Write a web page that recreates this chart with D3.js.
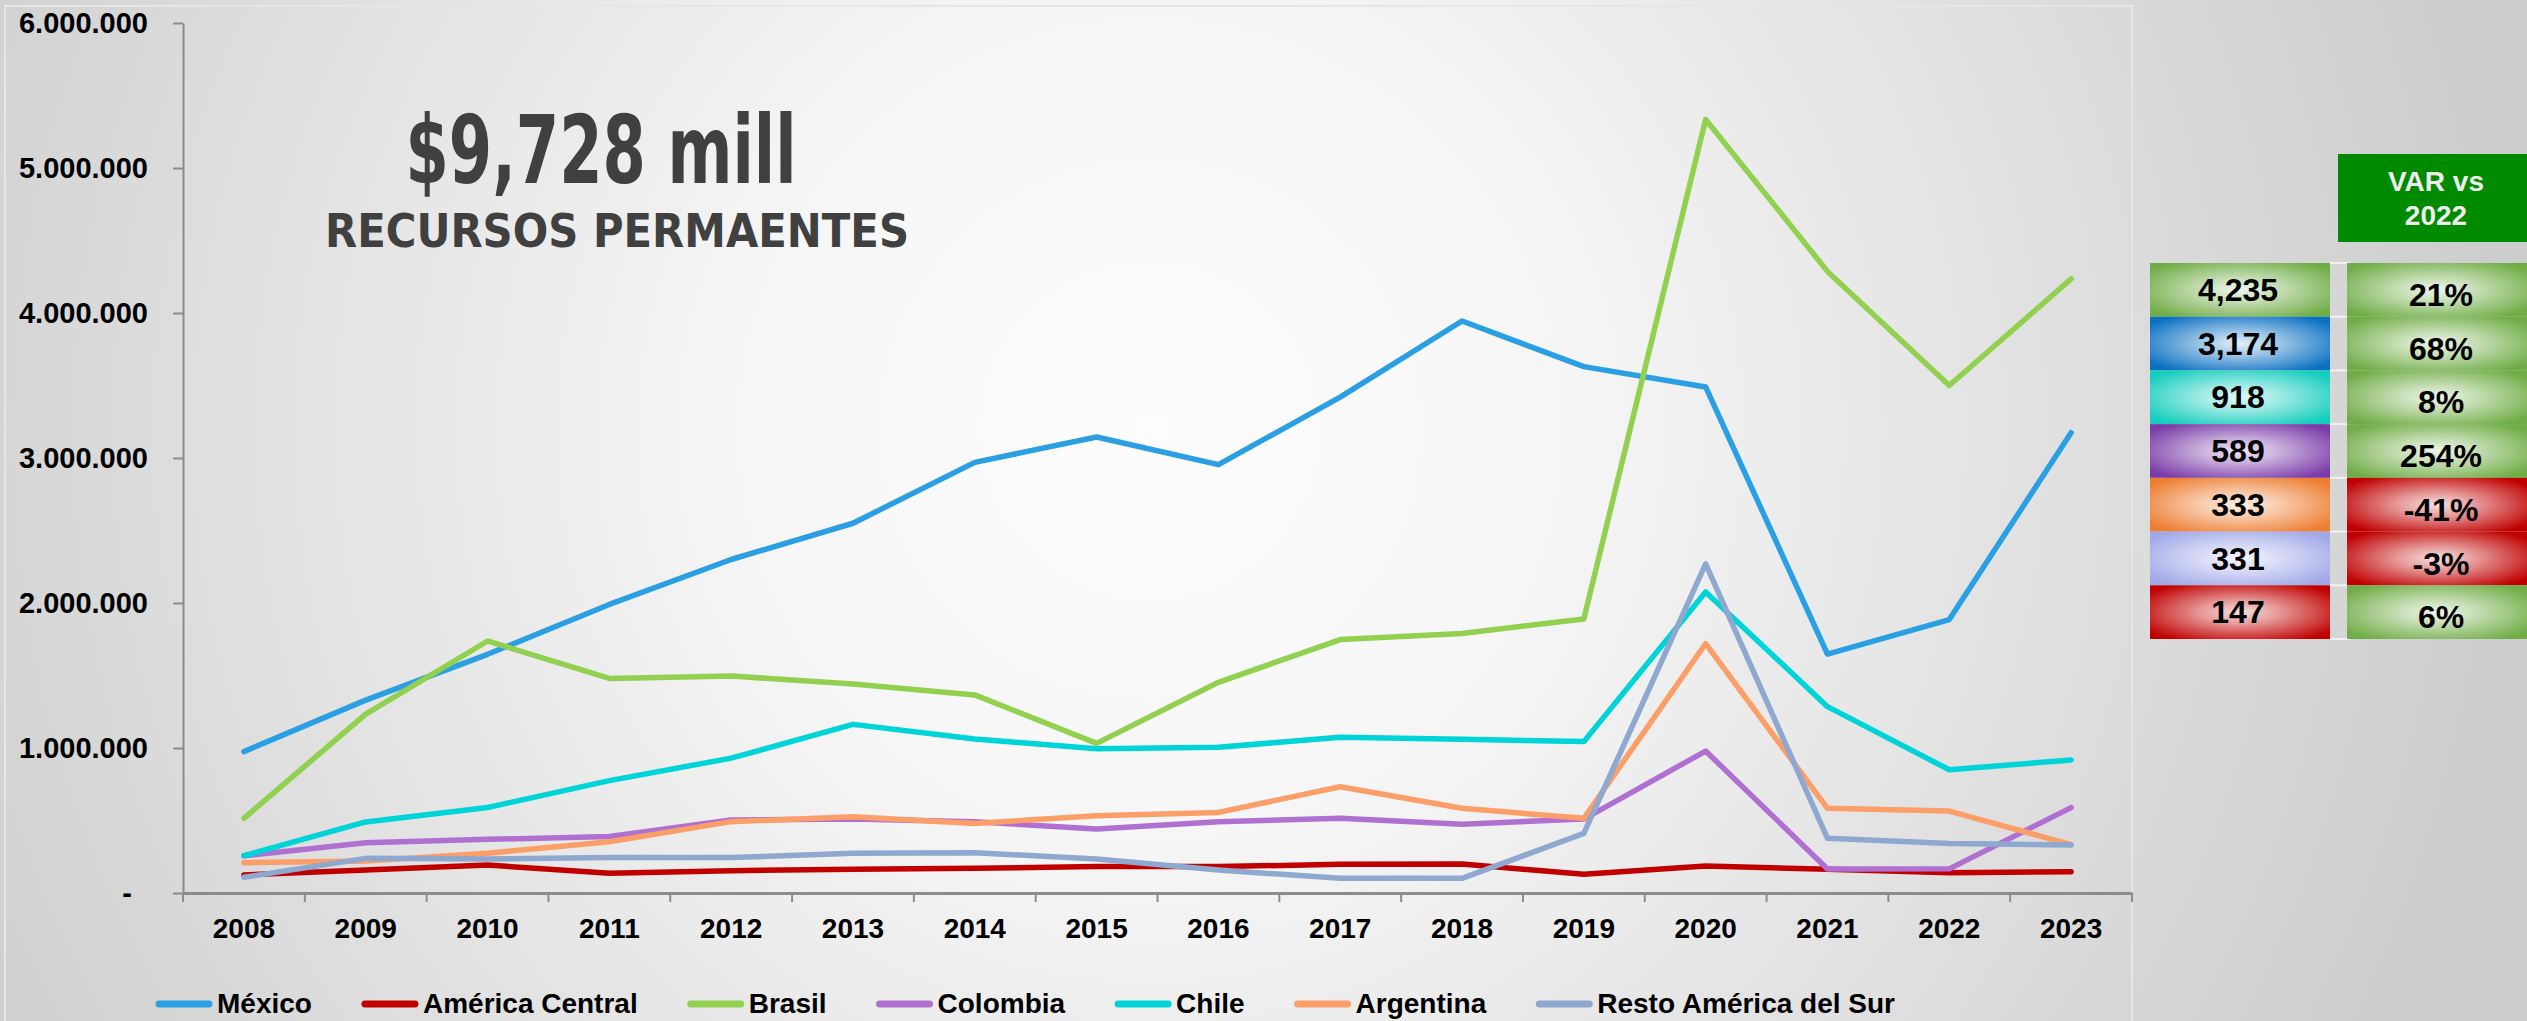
<!DOCTYPE html>
<html>
<head>
<meta charset="utf-8">
<script src="https://cdn.jsdelivr.net/npm/d3@7"></script>
<style>
  body { margin: 0; background: #d8d8d8; }
  svg { display: block; font-family: "Liberation Sans", Arial, sans-serif; }
</style>
</head>
<body>
<svg id="chart" width="2527" height="1021"></svg>
<script>
'use strict';

var years = ['2008', '2009', '2010', '2011', '2012', '2013', '2014', '2015',
             '2016', '2017', '2018', '2019', '2020', '2021', '2022', '2023'];

// series values (units)
var mexico     = [975000, 1330000, 1646000, 1990000, 2300000, 2550000, 2970000, 3145000,
                  2954000, 3420000, 3945000, 3630000, 3490000, 1648000, 1886000, 3174000];
var amCentral  = [124000, 159000, 193000, 136000, 154000, 163000, 170000, 182000,
                  182000, 198000, 200000, 129000, 186000, 163000, 139000, 147000];
var brasil     = [515000, 1234000, 1738000, 1480000, 1497000, 1441000, 1366000, 1032000,
                  1453000, 1748000, 1790000, 1890000, 5335000, 4287000, 3500000, 4235000];
var colombia   = [257000, 347000, 370000, 389000, 503000, 510000, 492000, 441000,
                  492000, 515000, 474000, 510000, 979000, 166000, 166400, 589000];
var chile      = [257000, 490000, 590000, 775000, 930000, 1163000, 1062000, 995000,
                  1005000, 1074000, 1060000, 1044000, 2076000, 1285000, 850000, 918000];
var argentina  = [209000, 220000, 274000, 354000, 492000, 526000, 480000, 533000,
                  556000, 733000, 584000, 515000, 1720000, 584000, 565000, 333000];
var restoSur   = [108000, 239000, 234000, 244000, 244000, 274000, 278000, 234000,
                  159000, 101000, 101000, 411000, 2270000, 377000, 341000, 331000];

var seriesNames  = ['México', 'América Central', 'Brasil', 'Colombia', 'Chile', 'Argentina', 'Resto América del Sur'];
var seriesValues = [mexico, amCentral, brasil, colombia, chile, argentina, restoSur];
var lineColors   = ['#2a9fe4', '#c00000', '#92d050', '#b070d2', '#00d4d8', '#fb9e68', '#8ea8cf'];
var boxColors    = ['#0a70c2', '#c00000', '#70ad47', '#7a3aa8', '#14cdbd', '#ed7d31', '#a0a8e8'];

var yTicks = [0, 1000000, 2000000, 3000000, 4000000, 5000000, 6000000];

var bigTitle = '$9,728 mill';
var subTitle = 'RECURSOS PERMAENTES';
var varHeader = ['VAR vs', '2022'];

var svg = d3.select('#chart');
var defs = svg.append('defs');

// background
var bg = defs.append('radialGradient').attr('id', 'bg')
  .attr('gradientUnits', 'userSpaceOnUse')
  .attr('cx', 1150).attr('cy', 430).attr('r', 1350);
bg.append('stop').attr('offset', 0).attr('stop-color', '#fdfdfd');
bg.append('stop').attr('offset', 0.3).attr('stop-color', '#f6f6f6');
bg.append('stop').attr('offset', 1).attr('stop-color', '#cdcdcd');
svg.append('rect').attr('width', 2527).attr('height', 1021).attr('fill', 'url(#bg)');
svg.append('rect').attr('x', 5).attr('y', 6).attr('width', 2127).attr('height', 1030)
  .attr('fill', 'none').attr('stroke', '#e6e6e6').attr('stroke-width', 2);

// scales
var x = d3.scaleBand().domain(years).range([183, 2132]);
var y = d3.scaleLinear().domain([0, 6000000]).range([893, 23]);
var cx = function(d) { return x(d) + x.bandwidth() / 2; };

var es = d3.formatLocale({ decimal: ',', thousands: '.', grouping: [3], currency: ['$', ''] });
var fmtAxis = es.format(',.0f');

// y axis
var yAxis = svg.append('g')
  .attr('transform', 'translate(183,0)')
  .call(d3.axisLeft(y).tickValues(yTicks).tickSize(10).tickSizeOuter(0).tickPadding(25)
    .tickFormat(function(d) { return d === 0 ? '-' : fmtAxis(d); }));
yAxis.selectAll('path, line').attr('stroke', '#8c8c8c').attr('stroke-width', 2);
yAxis.selectAll('text').attr('font-size', 29).attr('font-weight', 'bold')
  .attr('fill', '#000').attr('font-family', '"Liberation Sans", Arial, sans-serif')
  .attr('dx', function(d) { return d === 0 ? -16 : 0; });

// x axis
var xAxis = svg.append('g')
  .attr('transform', 'translate(0,893)')
  .call(d3.axisBottom(x).tickSize(0).tickSizeOuter(0).tickPadding(25));
xAxis.select('path').attr('stroke', '#8c8c8c').attr('stroke-width', 3);
xAxis.selectAll('text').attr('font-size', 28).attr('font-weight', 'bold')
  .attr('fill', '#000').attr('font-family', '"Liberation Sans", Arial, sans-serif');
var bounds = years.map(function(d) { return x(d); }).concat([x.range()[1]]);
xAxis.selectAll('line.bound').data(bounds).enter().append('line')
  .attr('class', 'bound')
  .attr('x1', function(d) { return d; }).attr('x2', function(d) { return d; })
  .attr('y1', 0).attr('y2', 9)
  .attr('stroke', '#8c8c8c').attr('stroke-width', 2);

// lines
var line = d3.line()
  .x(function(d, i) { return cx(years[i]); })
  .y(function(d) { return y(d); });

svg.append('g').selectAll('path.series').data(seriesValues).enter().append('path')
  .attr('class', 'series')
  .attr('d', line)
  .attr('fill', 'none')
  .attr('stroke', function(d, i) { return lineColors[i]; })
  .attr('stroke-width', 5.5)
  .attr('stroke-linejoin', 'round')
  .attr('stroke-linecap', 'round');

// titles
svg.append('text').attr('x', 601).attr('y', 183)
  .attr('text-anchor', 'middle')
  .attr('font-family', '"Liberation Sans Narrow", "DejaVu Sans Condensed", "Liberation Sans", sans-serif')
  .attr('font-weight', 'bold').attr('font-size', 95).attr('fill', '#404040')
  .attr('textLength', 391).attr('lengthAdjust', 'spacingAndGlyphs')
  .text(bigTitle);
svg.append('text').attr('x', 617).attr('y', 247)
  .attr('text-anchor', 'middle')
  .attr('font-family', '"Liberation Sans Narrow", "DejaVu Sans Condensed", "Liberation Sans", sans-serif')
  .attr('font-weight', 'bold').attr('font-size', 47).attr('fill', '#404040')
  .attr('textLength', 584).attr('lengthAdjust', 'spacingAndGlyphs')
  .text(subTitle);

// legend
var legend = svg.append('g');
var lx = 156;
seriesNames.forEach(function(name, i) {
  legend.append('line')
    .attr('x1', lx + 3).attr('x2', lx + 53).attr('y1', 1004).attr('y2', 1004)
    .attr('stroke', lineColors[i]).attr('stroke-width', 7).attr('stroke-linecap', 'round');
  var t = legend.append('text').attr('x', lx + 61).attr('y', 1013)
    .attr('font-size', 28).attr('font-weight', 'bold').attr('fill', '#000')
    .text(name);
  lx = lx + 61 + t.node().getComputedTextLength() + 50;
});

// summary table, sorted by 2023 value
var last = years.length - 1;
var rows = seriesNames.map(function(name, i) {
  var v = seriesValues[i];
  return { name: name, color: boxColors[i], val: v[last], change: v[last] / v[last - 1] - 1 };
}).sort(function(a, b) { return b.val - a.val; });

var fmtK = d3.format(',.0f');
var fmtPct = function(v) { return d3.format('.0%')(v).replace('\u2212', '-'); };

function grad(id, color) {
  var g = defs.append('radialGradient').attr('id', id)
    .attr('cx', 0.5).attr('cy', 0.5).attr('r', 0.62);
  g.append('stop').attr('offset', 0).attr('stop-color', d3.interpolateRgb(color, '#ffffff')(0.88));
  g.append('stop').attr('offset', 0.35).attr('stop-color', d3.interpolateRgb(color, '#ffffff')(0.6));
  g.append('stop').attr('offset', 1).attr('stop-color', color);
}
grad('gPos', '#70ad47');
grad('gNeg', '#c00000');

var rowY = d3.scaleBand().domain(d3.range(rows.length)).range([263, 639]);

svg.append('rect').attr('x', 2330).attr('y', 263).attr('width', 17).attr('height', 376)
  .attr('fill', '#d6d6d6');
svg.selectAll('line.sep').data(d3.range(rows.length + 1)).enter().append('line')
  .attr('class', 'sep')
  .attr('x1', 2330).attr('x2', 2350)
  .attr('y1', function(i) { return 263 + i * rowY.step(); })
  .attr('y2', function(i) { return 263 + i * rowY.step(); })
  .attr('stroke', '#f2f2f2').attr('stroke-width', 2);

var tbl = svg.append('g').selectAll('g').data(rows).enter().append('g');
tbl.each(function(d, i) { grad('gRow' + i, d.color); });
tbl.append('rect')
  .attr('x', 2150).attr('width', 180)
  .attr('y', function(d, i) { return rowY(i); }).attr('height', rowY.bandwidth())
  .attr('fill', function(d, i) { return 'url(#gRow' + i + ')'; });
tbl.append('text')
  .attr('x', 2238).attr('y', function(d, i) { return rowY(i) + 38; })
  .attr('text-anchor', 'middle').attr('font-size', 32).attr('font-weight', 'bold')
  .text(function(d) { return fmtK(d.val / 1000); });
tbl.append('rect')
  .attr('x', 2347).attr('width', 180)
  .attr('y', function(d, i) { return rowY(i); }).attr('height', rowY.bandwidth())
  .attr('fill', function(d) { return d.change >= 0 ? 'url(#gPos)' : 'url(#gNeg)'; });
tbl.append('text')
  .attr('x', 2441).attr('y', function(d, i) { return rowY(i) + 43; })
  .attr('text-anchor', 'middle').attr('font-size', 32).attr('font-weight', 'bold')
  .text(function(d) { return fmtPct(d.change); });

// header
svg.append('rect').attr('x', 2338).attr('y', 154).attr('width', 189).attr('height', 88)
  .attr('fill', '#008a00');
svg.selectAll('text.hdr').data(varHeader).enter().append('text')
  .attr('class', 'hdr')
  .attr('x', 2436).attr('y', function(d, i) { return 191 + i * 34; })
  .attr('text-anchor', 'middle')
  .attr('font-family', '"Liberation Sans", Arial, sans-serif')
  .attr('font-weight', 'bold').attr('font-size', 28).attr('fill', '#eeeeee')
  .text(function(d) { return d; });
</script>
</body>
</html>
